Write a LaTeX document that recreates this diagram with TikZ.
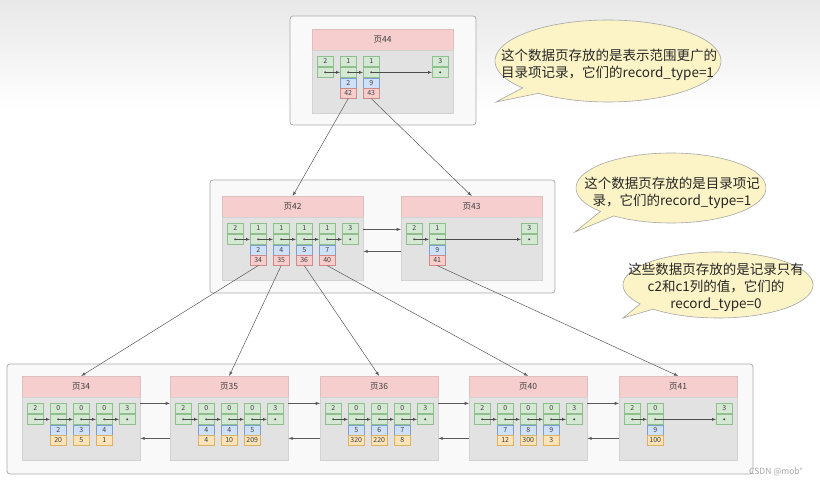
\documentclass[tikz,border=0pt]{standalone}
\usepackage{fontspec}
\setmainfont{Noto Sans CJK SC}
\definecolor{phead}{HTML}{F6CECE}
\definecolor{pbody}{HTML}{E2E2E2}
\definecolor{gcell}{HTML}{D5E8D4}
\definecolor{gline}{HTML}{8FBF8C}
\definecolor{bcell}{HTML}{CFE1F9}
\definecolor{bline}{HTML}{7E9FCF}
\definecolor{pcell}{HTML}{F8CECC}
\definecolor{pline}{HTML}{D08A87}
\definecolor{ocell}{HTML}{FCE3B8}
\definecolor{oline}{HTML}{E0B060}
\definecolor{bubble}{HTML}{FCF4C6}
\tikzset{
  cellbox/.style={minimum width=16pt,inner sep=0pt,line width=0.4pt,font=\fontsize{7}{7.5}\selectfont,text=black!75},
  rtop/.style={cellbox,fill=gcell,draw=gline,minimum height=10.5pt,anchor=north west},
  rbot/.style={cellbox,fill=gcell,draw=gline,minimum height=10.5pt,anchor=north},
  keycell/.style={cellbox,fill=bcell,draw=bline,minimum height=10pt,anchor=north},
  ptrcell/.style={cellbox,fill=pcell,draw=pline,minimum height=10pt,anchor=north},
  valcell/.style={cellbox,fill=ocell,draw=oline,minimum height=10pt,anchor=north},
  pghead/.style={fill=phead,draw=phead!80!gray,minimum height=21pt,inner sep=0pt,anchor=north west,font=\fontsize{8.5}{9}\selectfont,text=black!75},
  pgbody/.style={fill=pbody,draw=gray!35,minimum height=63pt,inner sep=0pt,anchor=north west},
  levelbox/.style={fill=gray!5,draw=gray!65,line width=0.8pt,rounded corners=3pt},
  reclink/.style={line width=0.4pt,black!70,-latex},
  pagelink/.style={line width=0.5pt,gray!70!black,-latex},
  treelink/.style={line width=0.5pt,gray!70!black,-latex},
  callout/.style={fill=bubble,draw=gray!70,line width=0.6pt},
  callnote/.style={font=\fontsize{13.5}{17}\selectfont,text=black!85,inner sep=0pt}
}
\newcommand{\pagebox}[5]{%
  \node[pghead,minimum width=#4pt] (#1h) at (#2,#3) {#5};
  \node[pgbody,minimum width=#4pt] (#1) at (#1h.south west) {};}
\newcommand{\grec}[4]{%
  \node[rtop] (#1t) at ({#2},{#3}) {#4};
  \node[rbot] (#1) at (#1t.south) {};
  \fill[black!75] (#1.center) circle (1.1pt);}

\begin{document}
\begin{tikzpicture}[x=1pt,y=-1pt]
\useasboundingbox (0,0) rectangle (820,486);
\fill[white] (0,0) rectangle (820,486);
\shade[top color=black!9,bottom color=white] (0,0) rectangle (820,110);

\draw[levelbox] (290,16) rectangle (476,125);
\draw[levelbox] (210,180) rectangle (555,293);
\draw[levelbox] (7,364) rectangle (753,474);

% page 44
\pagebox{p44}{312}{29}{141}{页44}
\foreach \k/\n in {0/2,1/1,2/1,5/3} {\grec{p44c\k}{317+23*\k}{56}{\n}}
\node[keycell] (p44k1) at (p44c1.south) {2};
\node[ptrcell] (p44p1) at (p44k1.south) {42};
\node[keycell] (p44k2) at (p44c2.south) {9};
\node[ptrcell] (p44p2) at (p44k2.south) {43};
\draw[reclink] (p44c0.center) -- (p44c1.west);
\draw[reclink] (p44c1.center) -- (p44c2.west);
\draw[reclink] (p44c2.center) -- (p44c5.west);

% page 42
\pagebox{p42}{222}{196}{141}{页42}
\foreach \k/\n in {0/2,1/1,2/1,3/1,4/1,5/3} {\grec{p42c\k}{227+23*\k}{223}{\n}}
\foreach \k/\a/\b in {1/2/34,2/4/35,3/5/36,4/7/40} {
  \node[keycell] (p42k\k) at (p42c\k.south) {\a};
  \node[ptrcell] (p42p\k) at (p42k\k.south) {\b};}
\foreach \k [evaluate=\k as \j using int(\k+1)] in {0,...,4}
  \draw[reclink] (p42c\k.center) -- (p42c\j.west);

% page 43
\pagebox{p43}{401}{196}{141}{页43}
\foreach \k/\n in {0/2,1/1,5/3} {\grec{p43c\k}{406+23*\k}{223}{\n}}
\node[keycell] (p43k1) at (p43c1.south) {9};
\node[ptrcell] (p43p1) at (p43k1.south) {41};
\draw[reclink] (p43c0.center) -- (p43c1.west);
\draw[reclink] (p43c1.center) -- (p43c5.west);

\draw[pagelink] ([yshift=-12pt]p42.north east) -- ([yshift=-12pt]p43.north west);
\draw[pagelink] ([yshift=-34pt]p43.north west) -- ([yshift=-34pt]p42.north east);

% page 34
\pagebox{p34}{22}{376}{118}{页34}
\foreach \k/\n in {0/2,1/0,2/0,3/0,4/3} {\grec{p34c\k}{27+23*\k}{403}{\n}}
\foreach \k/\a/\b in {1/2/20,2/3/5,3/4/1} {
  \node[keycell] (p34k\k) at (p34c\k.south) {\a};
  \node[valcell] (p34v\k) at (p34k\k.south) {\b};}
\foreach \k [evaluate=\k as \j using int(\k+1)] in {0,...,3}
  \draw[reclink] (p34c\k.center) -- (p34c\j.west);

% page 35
\pagebox{p35}{170}{376}{118}{页35}
\foreach \k/\n in {0/2,1/0,2/0,3/0,4/3} {\grec{p35c\k}{175+23*\k}{403}{\n}}
\foreach \k/\a/\b in {1/4/4,2/4/10,3/5/209} {
  \node[keycell] (p35k\k) at (p35c\k.south) {\a};
  \node[valcell] (p35v\k) at (p35k\k.south) {\b};}
\foreach \k [evaluate=\k as \j using int(\k+1)] in {0,...,3}
  \draw[reclink] (p35c\k.center) -- (p35c\j.west);

% page 36
\pagebox{p36}{320}{376}{118}{页36}
\foreach \k/\n in {0/2,1/0,2/0,3/0,4/3} {\grec{p36c\k}{325+23*\k}{403}{\n}}
\foreach \k/\a/\b in {1/5/320,2/6/220,3/7/8} {
  \node[keycell] (p36k\k) at (p36c\k.south) {\a};
  \node[valcell] (p36v\k) at (p36k\k.south) {\b};}
\foreach \k [evaluate=\k as \j using int(\k+1)] in {0,...,3}
  \draw[reclink] (p36c\k.center) -- (p36c\j.west);

% page 40
\pagebox{p40}{469}{376}{118}{页40}
\foreach \k/\n in {0/2,1/0,2/0,3/0,4/3} {\grec{p40c\k}{474+23*\k}{403}{\n}}
\foreach \k/\a/\b in {1/7/12,2/8/300,3/9/3} {
  \node[keycell] (p40k\k) at (p40c\k.south) {\a};
  \node[valcell] (p40v\k) at (p40k\k.south) {\b};}
\foreach \k [evaluate=\k as \j using int(\k+1)] in {0,...,3}
  \draw[reclink] (p40c\k.center) -- (p40c\j.west);

% page 41
\pagebox{p41}{619}{376}{118}{页41}
\foreach \k/\n in {0/2,1/0,4/3} {\grec{p41c\k}{624+23*\k}{403}{\n}}
\node[keycell] (p41k1) at (p41c1.south) {9};
\node[valcell] (p41v1) at (p41k1.south) {100};
\draw[reclink] (p41c0.center) -- (p41c1.west);
\draw[reclink] (p41c1.center) -- (p41c4.west);

\foreach \a/\b in {p34/p35,p35/p36,p36/p40,p40/p41} {
  \draw[pagelink] ([yshift=-6pt]\a.north east) -- ([yshift=-6pt]\b.north west);
  \draw[pagelink] ([yshift=-41pt]\b.north west) -- ([yshift=-41pt]\a.north east);}

% links between levels
\draw[treelink] (p44p1.south) -- (p42h.north);
\draw[treelink] (p44p2.south) -- (p43h.north);
\foreach \k/\t in {1/p34h,2/p35h,3/p36h,4/p40h}
  \draw[treelink] (p42p\k.south) -- (\t.north);
\draw[treelink] (p43p1.south) -- (p41h.north);

% notes
\filldraw[callout] (608,61) ++(139:113 and 41) arc[start angle=139,end angle=488,x radius=113,y radius=41] -- (496,102) -- cycle;
\node[callnote,align=left,anchor=west] (note44) at (501,65) {这个数据页存放的是表示范围更广的\\目录项记录，它们的record\_type=1};
\filldraw[callout] (671,188) ++(138:95 and 35) arc[start angle=138,end angle=487,x radius=95,y radius=35] -- (575,232) -- cycle;
\node[callnote,align=center] (note42) at (672,193) {这个数据页存放的是目录项记\\录，它们的record\_type=1};
\filldraw[callout] (718,285) ++(145:95 and 33) arc[start angle=145,end angle=493,x radius=95,y radius=33] -- (623,318) -- cycle;
\node[callnote,align=center] (note34) at (716,287) {这些数据页存放的是记录只有\\c2和c1列的值，它们的\\record\_type=0};

\node[font=\fontsize{8.5}{9}\selectfont,text=gray!70] (mark) at (776,472) {CSDN @mob°};
\end{tikzpicture}
\end{document}
